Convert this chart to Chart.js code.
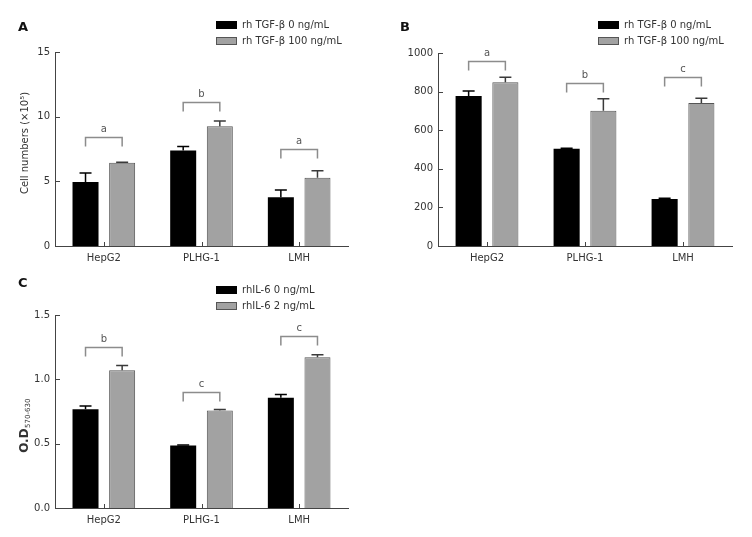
<!DOCTYPE html>
<html><head><meta charset="utf-8">
<script src="https://cdn.jsdelivr.net/npm/chart.js@4.4.1/dist/chart.umd.min.js"></script>
<style>
html,body{margin:0;padding:0;background:#fff;width:752px;height:537px;overflow:hidden}
canvas{position:absolute}
</style></head><body>
<canvas id="cA" width="376" height="268" style="left:0;top:0"></canvas>
<canvas id="cB" width="376" height="268" style="left:376px;top:0"></canvas>
<canvas id="cC" width="376" height="269" style="left:0;top:268px"></canvas>
<script>
const categories = ['HepG2', 'PLHG-1', 'LMH'];

// Panel A: cell numbers (x10^5)
const legendA = ['rh TGF-\u03b2 0 ng/mL', 'rh TGF-\u03b2 100 ng/mL'];
const cellsTgf0 = [4.95, 7.39, 3.77];
const cellsTgf0Err = [0.70, 0.31, 0.56];
const cellsTgf100 = [6.43, 9.25, 5.27];
const cellsTgf100Err = [0.05, 0.42, 0.54];
const bracketA = [8.45, 11.14, 7.49];
const sigA = ['a', 'b', 'a'];
const ticksA = [0, 5, 10, 15];

// Panel B
const legendB = ['rh TGF-\u03b2 0 ng/mL', 'rh TGF-\u03b2 100 ng/mL'];
const valsTgf0 = [777, 504, 244];
const valsTgf0Err = [26, 3, 3];
const valsTgf100 = [849, 701, 741];
const valsTgf100Err = [26, 62, 24];
const bracketB = [956, 847, 877];
const sigB = ['a', 'b', 'c'];
const ticksB = [0, 200, 400, 600, 800, 1000];

// Panel C: O.D570-630
const legendC = ['rhIL-6 0 ng/mL', 'rhIL-6 2 ng/mL'];
const odIl0 = [0.768, 0.486, 0.857];
const odIl0Err = [0.025, 0.003, 0.025];
const odIl2 = [1.070, 0.758, 1.171];
const odIl2Err = [0.038, 0.007, 0.021];
const bracketC = [1.248, 0.898, 1.333];
const sigC = ['b', 'c', 'c'];
const ticksC = [0.0, 0.5, 1.0, 1.5];

const FONT = "'DejaVu Sans', Verdana, sans-serif";
const AXIS = '#444';
const BLACK = '#000000';
const GREY = '#a2a2a2';
const GREY_EDGE = '#555555';

const panelPlugin = {
  id: 'panel',
  afterDraw(chart, args, o) {
    const ctx = chart.ctx;
    const xs = chart.scales.x, ys = chart.scales.y;
    ctx.save();
    // inward tick marks
    ctx.strokeStyle = AXIS; ctx.lineWidth = 1;
    ctx.beginPath();
    ys.ticks.forEach((t, i) => {
      const py = Math.round(ys.getPixelForTick(i)) + 0.5;
      ctx.moveTo(ys.right, py); ctx.lineTo(ys.right + 5, py);
    });
    xs.ticks.forEach((t, i) => {
      const px = Math.round(xs.getPixelForTick(i)) + 0.5;
      ctx.moveTo(px, xs.top); ctx.lineTo(px, xs.top - 4);
    });
    ctx.stroke();
    // error bars (upper only)
    chart.data.datasets.forEach((ds, di) => {
      const meta = chart.getDatasetMeta(di);
      ctx.strokeStyle = ds.errColor; ctx.lineWidth = 1.5;
      meta.data.forEach((bar, i) => {
        const top = ys.getPixelForValue(ds.data[i] + ds.errors[i]);
        ctx.beginPath();
        ctx.moveTo(bar.x, bar.y); ctx.lineTo(bar.x, top);
        ctx.moveTo(bar.x - 6, top); ctx.lineTo(bar.x + 6, top);
        ctx.stroke();
      });
    });
    // significance brackets
    const m0 = chart.getDatasetMeta(0), m1 = chart.getDatasetMeta(1);
    ctx.strokeStyle = '#8c8c8c'; ctx.lineWidth = 1.5;
    ctx.fillStyle = '#555'; ctx.font = '10px ' + FONT;
    ctx.textAlign = 'center'; ctx.textBaseline = 'bottom';
    o.brackets.forEach((v, i) => {
      const x1 = m0.data[i].x, x2 = m1.data[i].x;
      const py = Math.round(ys.getPixelForValue(v)) + 0.5;
      ctx.beginPath();
      ctx.moveTo(x1, py + 9); ctx.lineTo(x1, py); ctx.lineTo(x2, py); ctx.lineTo(x2, py + 9);
      ctx.stroke();
      ctx.fillText(o.sig[i], (x1 + x2) / 2, py - 3);
    });
    // legend
    ctx.font = '10px ' + FONT; ctx.textAlign = 'left'; ctx.textBaseline = 'middle';
    chart.data.datasets.forEach((ds, di) => {
      const y0 = o.legend.y + di * o.legend.dy;
      ctx.fillStyle = ds.backgroundColor;
      ctx.fillRect(o.legend.x, y0 - 4, 21, 8);
      if (ds.borderWidth) {
        ctx.strokeStyle = GREY_EDGE; ctx.lineWidth = 1;
        ctx.strokeRect(o.legend.x + 0.5, y0 - 3.5, 20, 7);
      }
      ctx.fillStyle = '#333';
      ctx.fillText(ds.label, o.legend.x + 26, y0 + 0.5);
    });
    // panel letter
    ctx.font = 'bold 13px ' + FONT; ctx.fillStyle = '#111';
    ctx.textAlign = 'left'; ctx.textBaseline = 'middle';
    ctx.fillText(o.letter.text, o.letter.x, o.letter.y);
    // y title
    if (o.ytitle) {
      ctx.translate(o.ytitle.x, o.ytitle.y);
      ctx.rotate(-Math.PI / 2);
      ctx.fillStyle = '#333';
      ctx.textBaseline = 'middle';
      if (o.ytitle.sub) {
        ctx.font = 'bold 12px ' + FONT;
        const w1 = ctx.measureText(o.ytitle.text).width;
        ctx.font = '7px ' + FONT;
        const w2 = ctx.measureText(o.ytitle.sub).width;
        const start = -(w1 + w2) / 2;
        ctx.textAlign = 'left';
        ctx.font = 'bold 12px ' + FONT;
        ctx.fillText(o.ytitle.text, start, 0);
        ctx.font = '7px ' + FONT;
        ctx.fillText(o.ytitle.sub, start + w1 + 0.5, 3);
      } else {
        ctx.font = '10px ' + FONT;
        ctx.textAlign = 'center';
        ctx.fillText(o.ytitle.text, 0, 0);
      }
    }
    ctx.restore();
  }
};

function makeChart(id, p) {
  const ds = (label, data, errs, grey) => ({
    label, data, errors: errs,
    backgroundColor: grey ? GREY : BLACK,
    borderColor: grey ? GREY_EDGE : BLACK,
    borderWidth: grey ? 1 : 0,
    borderSkipped: 'bottom',
    errColor: grey ? '#3a3a3a' : BLACK,
    categoryPercentage: 0.75,
    barPercentage: 0.71
  });
  return new Chart(document.getElementById(id), {
    type: 'bar',
    data: {
      labels: categories,
      datasets: [ds(p.legend[0], p.s0, p.e0, false), ds(p.legend[1], p.s1, p.e1, true)]
    },
    plugins: [panelPlugin],
    options: {
      responsive: false, animation: false, devicePixelRatio: 1,
      layout: { padding: p.pad },
      plugins: {
        legend: { display: false }, tooltip: { enabled: false },
        panel: { brackets: p.brackets, sig: p.sig, legend: p.legendPos, letter: p.letter, ytitle: p.ytitle }
      },
      scales: {
        x: {
          grid: { display: false, drawTicks: false },
          border: { display: true, color: AXIS, width: 1 },
          ticks: { font: { family: FONT, size: 10 }, color: '#333', padding: 6 },
          afterFit: s => { s.height = 22; }
        },
        y: {
          min: p.ticks[0], max: p.ticks[p.ticks.length - 1],
          grid: { display: false, drawTicks: false },
          border: { display: true, color: AXIS, width: 1 },
          afterBuildTicks: s => { s.ticks = p.ticks.map(v => ({ value: v })); },
          ticks: { font: { family: FONT, size: 10 }, color: '#333', padding: 5,
                   callback: p.fmt },
          afterFit: s => { s.width = p.yw; }
        }
      }
    }
  });
}

makeChart('cA', {
  legend: legendA, s0: cellsTgf0, e0: cellsTgf0Err, s1: cellsTgf100, e1: cellsTgf100Err,
  brackets: bracketA, sig: sigA, ticks: ticksA, fmt: v => String(v),
  pad: { left: 14, top: 52, right: 28, bottom: 0 }, yw: 41,
  legendPos: { x: 216, y: 25, dy: 16 }, letter: { text: 'A', x: 18, y: 28 },
  ytitle: { text: 'Cell numbers (\u00d710\u2075)', x: 25, y: 143 }
});
makeChart('cB', {
  legend: legendB, s0: valsTgf0, e0: valsTgf0Err, s1: valsTgf100, e1: valsTgf100Err,
  brackets: bracketB, sig: sigB, ticks: ticksB, fmt: v => String(v),
  pad: { left: 14, top: 53, right: 20, bottom: 0 }, yw: 48,
  legendPos: { x: 222, y: 25, dy: 16 }, letter: { text: 'B', x: 24, y: 28 },
  ytitle: null
});
makeChart('cC', {
  legend: legendC, s0: odIl0, e0: odIl0Err, s1: odIl2, e1: odIl2Err,
  brackets: bracketC, sig: sigC, ticks: ticksC, fmt: v => v.toFixed(1),
  pad: { left: 14, top: 47, right: 28, bottom: 7 }, yw: 41,
  legendPos: { x: 216, y: 22, dy: 16 }, letter: { text: 'C', x: 18, y: 16 },
  ytitle: { text: 'O.D', sub: '570-630', x: 25, y: 158 }
});
</script>
</body></html>
